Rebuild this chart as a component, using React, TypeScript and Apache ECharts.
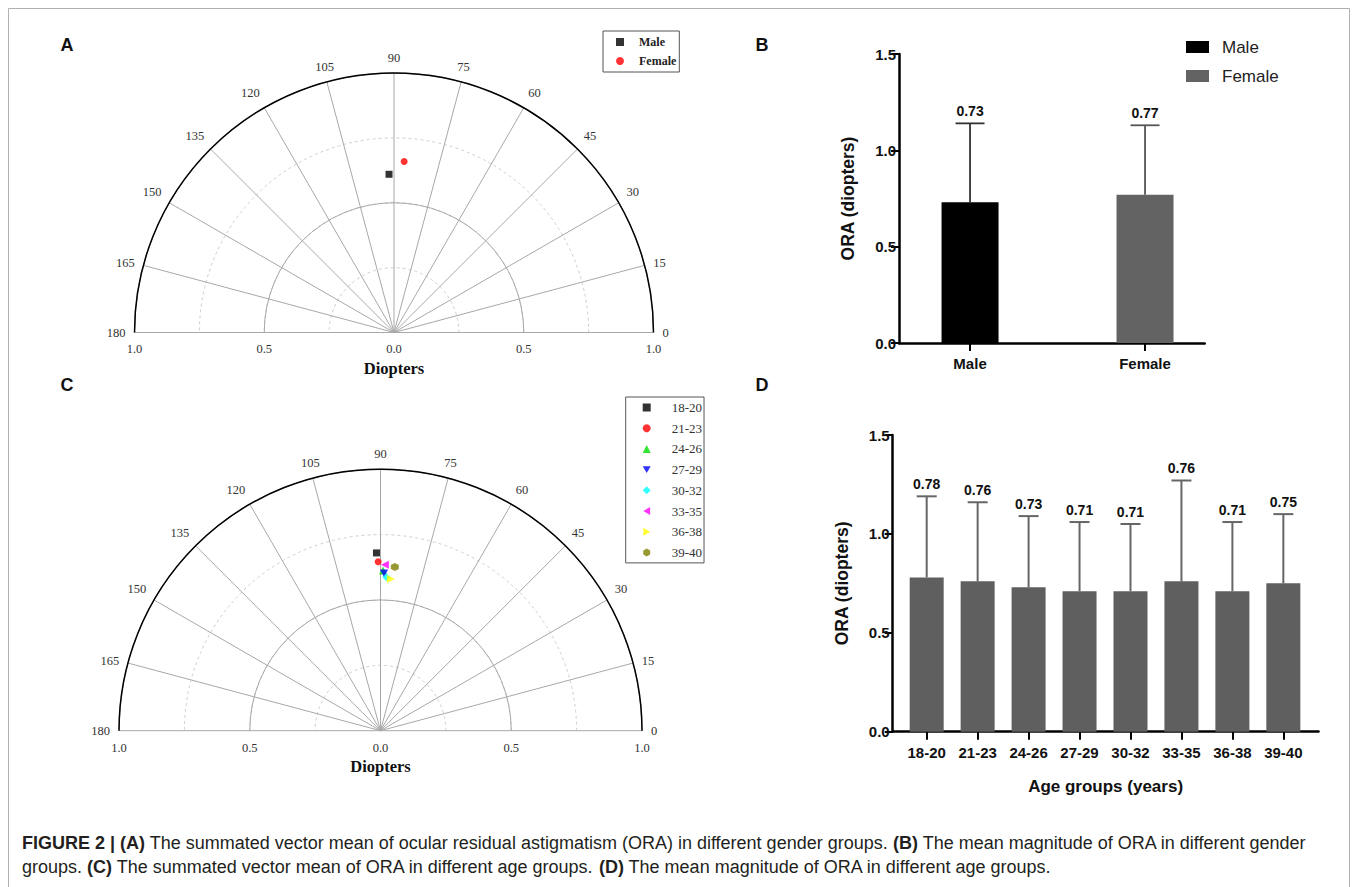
import React, { useEffect, useRef } from 'react';
import * as echarts from 'echarts';

// ---------------- data ----------------
const genderGroups = ['Male', 'Female'];
const genderVectorMagnitude = [0.61, 0.66];
const genderVectorAxis = [91.8, 86.6];
const genderMeanORA = [0.73, 0.77];
const genderSD = [0.41, 0.36];

const ageGroups = ['18-20', '21-23', '24-26', '27-29', '30-32', '33-35', '36-38', '39-40'];
const ageVectorMagnitude = [0.68, 0.646, 0.613, 0.601, 0.587, 0.635, 0.581, 0.628];
const ageVectorAxis = [91.3, 90.8, 89.1, 88.7, 87.8, 88.5, 86.1, 85.0];
const ageMeanORA = [0.78, 0.76, 0.73, 0.71, 0.71, 0.76, 0.71, 0.75];
const ageSD = [0.41, 0.40, 0.36, 0.35, 0.34, 0.51, 0.35, 0.35];

const panelLetters = ['A', 'B', 'C', 'D'];
const captionLine1 =
  '{b|FIGURE 2 | (A)} The summated vector mean of ocular residual astigmatism (ORA) in different gender groups. {b|(B)} The mean magnitude of ORA in different gender';
const captionLine2 =
  'groups. {b|(C)} The summated vector mean of ORA in different age groups. {b|(D)} The mean magnitude of ORA in different age groups.';

// ---------------- styles ----------------
const SERIF = '"Liberation Serif", "Times New Roman", "DejaVu Serif", serif';
const SANS = '"Liberation Sans", Arial, Helvetica, sans-serif';
const HEX = 'path://M0,-1 L0.866,-0.5 L0.866,0.5 L0,1 L-0.866,0.5 L-0.866,-0.5 Z';
const TRI_DOWN = 'path://M-1,0 L1,0 L0,1.7 Z';
const TRI_LEFT = 'path://M0,1 L1.7,0 L1.7,2 Z';
const TRI_RIGHT = 'path://M0,0 L1.7,1 L0,2 Z';

const genderMarkers = [
  { symbol: 'rect', color: '#000000', size: 7 },
  { symbol: 'circle', color: '#ff0000', size: 7 },
];
const genderBarColors = ['#000000', '#636363'];
const genderErrColors = ['#333333', '#555555'];
const ageMarkers = [
  { symbol: 'rect', color: '#000000', size: 7 },
  { symbol: 'circle', color: '#ff0000', size: 7 },
  { symbol: 'triangle', color: '#00e000', size: 8 },
  { symbol: TRI_DOWN, color: '#0000ff', size: 8 },
  { symbol: 'diamond', color: '#00ffff', size: 8 },
  { symbol: TRI_LEFT, color: '#ff00ff', size: 8 },
  { symbol: TRI_RIGHT, color: '#ffff00', size: 8 },
  { symbol: HEX, color: '#808000', size: 8 },
];

const A = { cx: 394, cy: 332.5, r: 259.5 };
const C = { cx: 380.5, cy: 730.7, r: 261.5 };

function polarAxes(polarIndex: number, dashed: boolean) {
  const angle: any = {
    polarIndex,
    type: 'value',
    min: 0,
    max: 180,
    interval: 15,
    startAngle: 0,
    endAngle: 180,
    clockwise: false,
    z: dashed ? 0 : 3,
    axisLine: { show: !dashed, lineStyle: { color: '#000', width: 1.5 } },
    axisTick: { show: false },
    axisLabel: { show: !dashed, margin: 9, fontFamily: SERIF, fontSize: 12.5, color: '#333333' },
    splitLine: { show: !dashed, lineStyle: { color: '#a8a8a8', width: 1 } },
  };
  const radius: any = {
    polarIndex,
    type: 'value',
    min: 0,
    max: 1,
    interval: dashed ? 0.25 : 0.5,
    z: dashed ? 0 : 2,
    axisLine: { show: false },
    axisTick: { show: false },
    axisLabel: { show: false },
    splitLine: {
      show: true,
      lineStyle: dashed
        ? { color: '#cfcfcf', width: 1, type: [3, 3] }
        : { color: '#a8a8a8', width: 1 },
    },
  };
  return { angle, radius };
}

function errorBarRenderer(colors: string[], capHalf: number, labelOffset: number, lineWidth: number) {
  return (params: any, api: any) => {
    const x = api.value(0);
    const m = api.value(1);
    const t = api.value(2);
    const p0 = api.coord([x, m]);
    const p1 = api.coord([x, t]);
    const c = colors[params.dataIndex % colors.length];
    return {
      type: 'group',
      children: [
        { type: 'line', shape: { x1: p0[0], y1: p0[1], x2: p1[0], y2: p1[1] }, style: { stroke: c, lineWidth } },
        {
          type: 'line',
          shape: { x1: p1[0] - capHalf, y1: p1[1], x2: p1[0] + capHalf, y2: p1[1] },
          style: { stroke: c, lineWidth },
        },
        {
          type: 'text',
          x: p1[0],
          y: p1[1] - labelOffset,
          style: {
            text: Number(m).toFixed(2),
            align: 'center',
            verticalAlign: 'middle',
            fill: '#111',
            fontFamily: SANS,
            fontWeight: 'bold',
            fontSize: 14,
          },
        },
      ],
    };
  };
}

const barAxisLabel = { fontFamily: SANS, fontWeight: 'bold', fontSize: 15, color: '#111' };
const barAxisLine = { show: true, onZero: false, lineStyle: { color: '#000', width: 2.5 } };
const barAxisTick = { show: true, length: 8, lineStyle: { color: '#000', width: 2 } };

function buildOption() {
  const pa0 = polarAxes(0, true);
  const pa1 = polarAxes(1, false);
  const pa2 = polarAxes(2, true);
  const pa3 = polarAxes(3, false);

  const radialLabelAxis = (gridIndex: number, margin: number) => ({
    gridIndex,
    type: 'value',
    min: -1,
    max: 1,
    interval: 0.5,
    axisLine: { show: false },
    axisTick: { show: false },
    splitLine: { show: false },
    axisLabel: {
      margin,
      showMinLabel: true,
      showMaxLabel: true,
      fontFamily: SERIF,
      fontSize: 12.5,
      color: '#333333',
      formatter: (v: number) => Math.abs(v).toFixed(1),
    },
    name: 'Diopters',
    nameLocation: 'middle',
    nameGap: 27,
    nameTextStyle: { fontFamily: SERIF, fontWeight: 'bold', fontSize: 16.5, color: '#111' },
  });

  const series: any[] = [];

  genderGroups.forEach((g, i) => {
    const mk = genderMarkers[i];
    series.push({
      type: 'scatter',
      name: g,
      coordinateSystem: 'polar',
      polarIndex: 1,
      symbol: mk.symbol,
      symbolSize: mk.size,
      itemStyle: { color: mk.color },
      z: 10,
      data: [[genderVectorMagnitude[i], genderVectorAxis[i]]],
    });
  });

  ageGroups.forEach((g, i) => {
    const mk = ageMarkers[i];
    series.push({
      type: 'scatter',
      name: g,
      coordinateSystem: 'polar',
      polarIndex: 3,
      symbol: mk.symbol,
      symbolSize: mk.size,
      itemStyle: { color: mk.color },
      z: 10,
      data: [[ageVectorMagnitude[i], ageVectorAxis[i]]],
    });
  });

  genderGroups.forEach((g, i) => {
    series.push({
      type: 'bar',
      name: g + ' (B)',
      xAxisIndex: 2,
      yAxisIndex: 2,
      stack: 'gender',
      barWidth: 57,
      itemStyle: { color: genderBarColors[i] },
      data: [[i, genderMeanORA[i]]],
    });
  });

  series.push({
    type: 'custom',
    name: 'gender-sd',
    xAxisIndex: 2,
    yAxisIndex: 2,
    z: 4,
    encode: { x: 0, y: [1, 2] },
    renderItem: errorBarRenderer(genderErrColors, 14.5, 12, 1.8),
    data: genderGroups.map((g, i) => [i, genderMeanORA[i], genderMeanORA[i] + genderSD[i]]),
  });

  series.push({
    type: 'bar',
    name: 'Age groups ORA',
    xAxisIndex: 3,
    yAxisIndex: 3,
    barWidth: 34,
    itemStyle: { color: '#5f5f5f' },
    data: ageGroups.map((g, i) => [i, ageMeanORA[i]]),
  });

  series.push({
    type: 'custom',
    name: 'age-sd',
    xAxisIndex: 3,
    yAxisIndex: 3,
    z: 4,
    encode: { x: 0, y: [1, 2] },
    renderItem: errorBarRenderer(['#666666'], 10, 12, 2),
    data: ageGroups.map((g, i) => [i, ageMeanORA[i], ageMeanORA[i] + ageSD[i]]),
  });

  const letterPos = [
    [67, 45],
    [762, 45],
    [67, 385],
    [762, 385],
  ];

  const captionStyle = (text: string) => ({
    text,
    verticalAlign: 'middle',
    fontFamily: SANS,
    fontSize: 18,
    fill: '#231f20',
    rich: { b: { fontWeight: 'bold', fontFamily: SANS, fontSize: 18, fill: '#231f20' } },
  });

  return {
    animation: false,
    backgroundColor: '#ffffff',
    polar: [
      { center: [A.cx, A.cy], radius: A.r },
      { center: [A.cx, A.cy], radius: A.r },
      { center: [C.cx, C.cy], radius: C.r },
      { center: [C.cx, C.cy], radius: C.r },
    ],
    angleAxis: [pa0.angle, pa1.angle, pa2.angle, pa3.angle],
    radiusAxis: [pa0.radius, pa1.radius, pa2.radius, pa3.radius],
    grid: [
      { left: A.cx - A.r, top: A.cy - 30, width: 2 * A.r, height: 30 },
      { left: C.cx - C.r, top: C.cy - 30, width: 2 * C.r, height: 30 },
      { left: 899, top: 54, width: 305.7, height: 289 },
      { left: 892.7, top: 435, width: 425.8, height: 296.7 },
    ],
    xAxis: [
      radialLabelAxis(0, 10),
      radialLabelAxis(1, 11),
      {
        gridIndex: 2,
        type: 'value',
        min: -0.406,
        max: 1.341,
        axisLine: barAxisLine,
        axisTick: { ...barAxisTick, customValues: [0, 1] },
        splitLine: { show: false },
        axisLabel: {
          ...barAxisLabel,
          margin: 13,
          customValues: [0, 1],
          formatter: (v: number) => genderGroups[Math.round(v)] ?? '',
        },
      },
      {
        gridIndex: 3,
        type: 'value',
        min: -0.667,
        max: 7.69,
        axisLine: barAxisLine,
        axisTick: { ...barAxisTick, customValues: ageGroups.map((g, i) => i) },
        splitLine: { show: false },
        axisLabel: {
          ...barAxisLabel,
          margin: 13,
          customValues: ageGroups.map((g, i) => i),
          formatter: (v: number) => ageGroups[Math.round(v)] ?? '',
        },
        name: 'Age groups (years)',
        nameLocation: 'middle',
        nameGap: 46,
        nameTextStyle: { fontFamily: SANS, fontWeight: 'bold', fontSize: 17, color: '#111' },
      },
    ],
    yAxis: [
      { gridIndex: 0, type: 'value', show: false },
      { gridIndex: 1, type: 'value', show: false },
      {
        gridIndex: 2,
        type: 'value',
        min: 0,
        max: 1.5,
        interval: 0.5,
        axisLine: barAxisLine,
        axisTick: barAxisTick,
        splitLine: { show: false },
        axisLabel: { ...barAxisLabel, margin: 3, formatter: (v: number) => v.toFixed(1) },
        name: 'ORA (diopters)',
        nameLocation: 'middle',
        nameGap: 42,
        nameTextStyle: { fontFamily: SANS, fontWeight: 'bold', fontSize: 17.5, color: '#111' },
      },
      {
        gridIndex: 3,
        type: 'value',
        min: 0,
        max: 1.5,
        interval: 0.5,
        axisLine: barAxisLine,
        axisTick: barAxisTick,
        splitLine: { show: false },
        axisLabel: { ...barAxisLabel, margin: 3, formatter: (v: number) => v.toFixed(1) },
        name: 'ORA (diopters)',
        nameLocation: 'middle',
        nameGap: 42,
        nameTextStyle: { fontFamily: SANS, fontWeight: 'bold', fontSize: 17.5, color: '#111' },
      },
    ],
    legend: [
      {
        data: genderGroups,
        orient: 'vertical',
        left: 603,
        top: 31,
        padding: [4, 3, 4, 13],
        itemGap: 5,
        itemWidth: 8,
        itemHeight: 8,
        selectedMode: false,
        borderColor: '#555',
        borderWidth: 1,
        borderRadius: 0,
        textStyle: { fontFamily: SERIF, fontWeight: 'bold', fontSize: 12, color: '#222', padding: [0, 0, 0, 10], lineHeight: 14 },
      },
      {
        data: ageGroups,
        orient: 'vertical',
        left: 625.7,
        top: 397,
        padding: [3, 2, 3, 17],
        itemGap: 5.7,
        itemWidth: 8,
        itemHeight: 8,
        selectedMode: false,
        borderColor: '#555',
        borderWidth: 1,
        borderRadius: 0,
        textStyle: { fontFamily: SERIF, fontSize: 13, color: '#333', padding: [0, 0, 0, 16], lineHeight: 15 },
      },
      {
        data: genderGroups.map((g) => g + ' (B)'),
        orient: 'vertical',
        left: 1186,
        top: 38,
        padding: 0,
        itemGap: 11,
        itemWidth: 23,
        itemHeight: 12,
        icon: 'rect',
        selectedMode: false,
        formatter: (n: string) => n.replace(' (B)', ''),
        textStyle: { fontFamily: SANS, fontSize: 17, color: '#222', padding: [0, 0, 0, 8], lineHeight: 18 },
      },
    ],
    series,
    graphic: [
      {
        type: 'rect',
        silent: true,
        shape: { x: 8.5, y: 8.5, width: 1341, height: 900 },
        style: { fill: 'none', stroke: '#b0b0b0', lineWidth: 1 },
      },
      ...panelLetters.map((l, i) => ({
        type: 'text',
        x: letterPos[i][0],
        y: letterPos[i][1],
        style: {
          text: l,
          align: 'center',
          verticalAlign: 'middle',
          fontFamily: SANS,
          fontWeight: 'bold',
          fontSize: 18,
          fill: '#111',
        },
      })),
      { type: 'text', x: 22, y: 843, style: captionStyle(captionLine1) },
      { type: 'text', x: 22, y: 867, style: captionStyle(captionLine2) },
    ],
  };
}

export default function App() {
  const ref = useRef<HTMLDivElement>(null);
  useEffect(() => {
    if (!ref.current) return;
    const chart = echarts.init(ref.current, undefined, { renderer: 'svg' });
    chart.setOption(buildOption() as any);
    return () => chart.dispose();
  }, []);
  return (
    <div
      ref={ref}
      style={{ position: 'absolute', left: 0, top: 0, width: 1358, height: 887, background: '#fff' }}
    />
  );
}
